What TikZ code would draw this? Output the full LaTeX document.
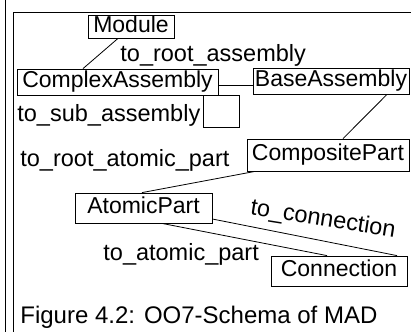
\documentclass[tikz,border=0pt]{standalone}
\usepackage{fontspec}
\setmainfont{Liberation Sans}
\begin{document}
\begin{tikzpicture}[x=1pt,y=-1pt,line width=0.8pt,
  cls/.style={draw,inner sep=0pt,text height=16.6pt,text depth=4.8pt,font=\fontsize{23}{27}\selectfont},
  lbl/.style={inner sep=0pt,font=\fontsize{23.5}{28}\selectfont}]
\useasboundingbox (0,0) rectangle (411,332);
% frame lines
\draw (5,0) -- (5,332);
\draw (411,12) -- (13,12) -- (13,332);
% classes
\node[cls,minimum width=86pt,minimum height=23pt] (mod) at (131,26.5) {Module};
\node[cls,minimum width=201pt,minimum height=26pt] (ca) at (117.5,82) {ComplexAssembly};
\node[cls,minimum width=156pt,minimum height=26pt] (ba) at (331,81) {BaseAssembly};
\node[cls,minimum width=162pt,minimum height=32pt] (cp) at (328,155) {CompositePart};
\node[cls,minimum width=137pt,minimum height=30pt] (ap) at (143.5,208) {AtomicPart};
\node[cls,minimum width=136pt,minimum height=30pt] (cn) at (339,271) {Connection};
% connectors
\draw ([xshift=-13pt]mod.south) -- ([xshift=-34.5pt]ca.north);
\draw ([yshift=-3pt]ca.east) -- ([yshift=-4pt]ba.west);
\draw ([xshift=85.5pt]ca.south) -- ++(0,32) -- ++(36,0) -- ++(0,-32) -- (ca.south east);
\draw ([xshift=56pt]ba.south) -- ([xshift=15pt]cp.north);
\draw ([xshift=-73pt]cp.south) -- ([xshift=-1.5pt]ap.north);
\draw ([yshift=-11pt]ap.east) -- ([xshift=58pt]cn.north);
\draw ([xshift=18.5pt]ap.south) -- ([xshift=-12pt]cn.north);
% labels
\node[lbl,anchor=west] (l1) at (120,55) {to\_root\_assembly};
\node[lbl,anchor=west] (l2) at (17,115) {to\_sub\_assembly};
\node[lbl,anchor=west] (l3) at (20,160) {to\_root\_atomic\_part};
\node[lbl,anchor=west] (l4) at (103,254) {to\_atomic\_part};
\node[lbl,rotate=-9] (l5) at (323,220) {to\_connection};
\node[lbl,anchor=west,font=\fontsize{24}{28}\selectfont] (cap) at (20,317) {Figure 4.2: OO7-Schema of MAD};
\end{tikzpicture}
\end{document}
